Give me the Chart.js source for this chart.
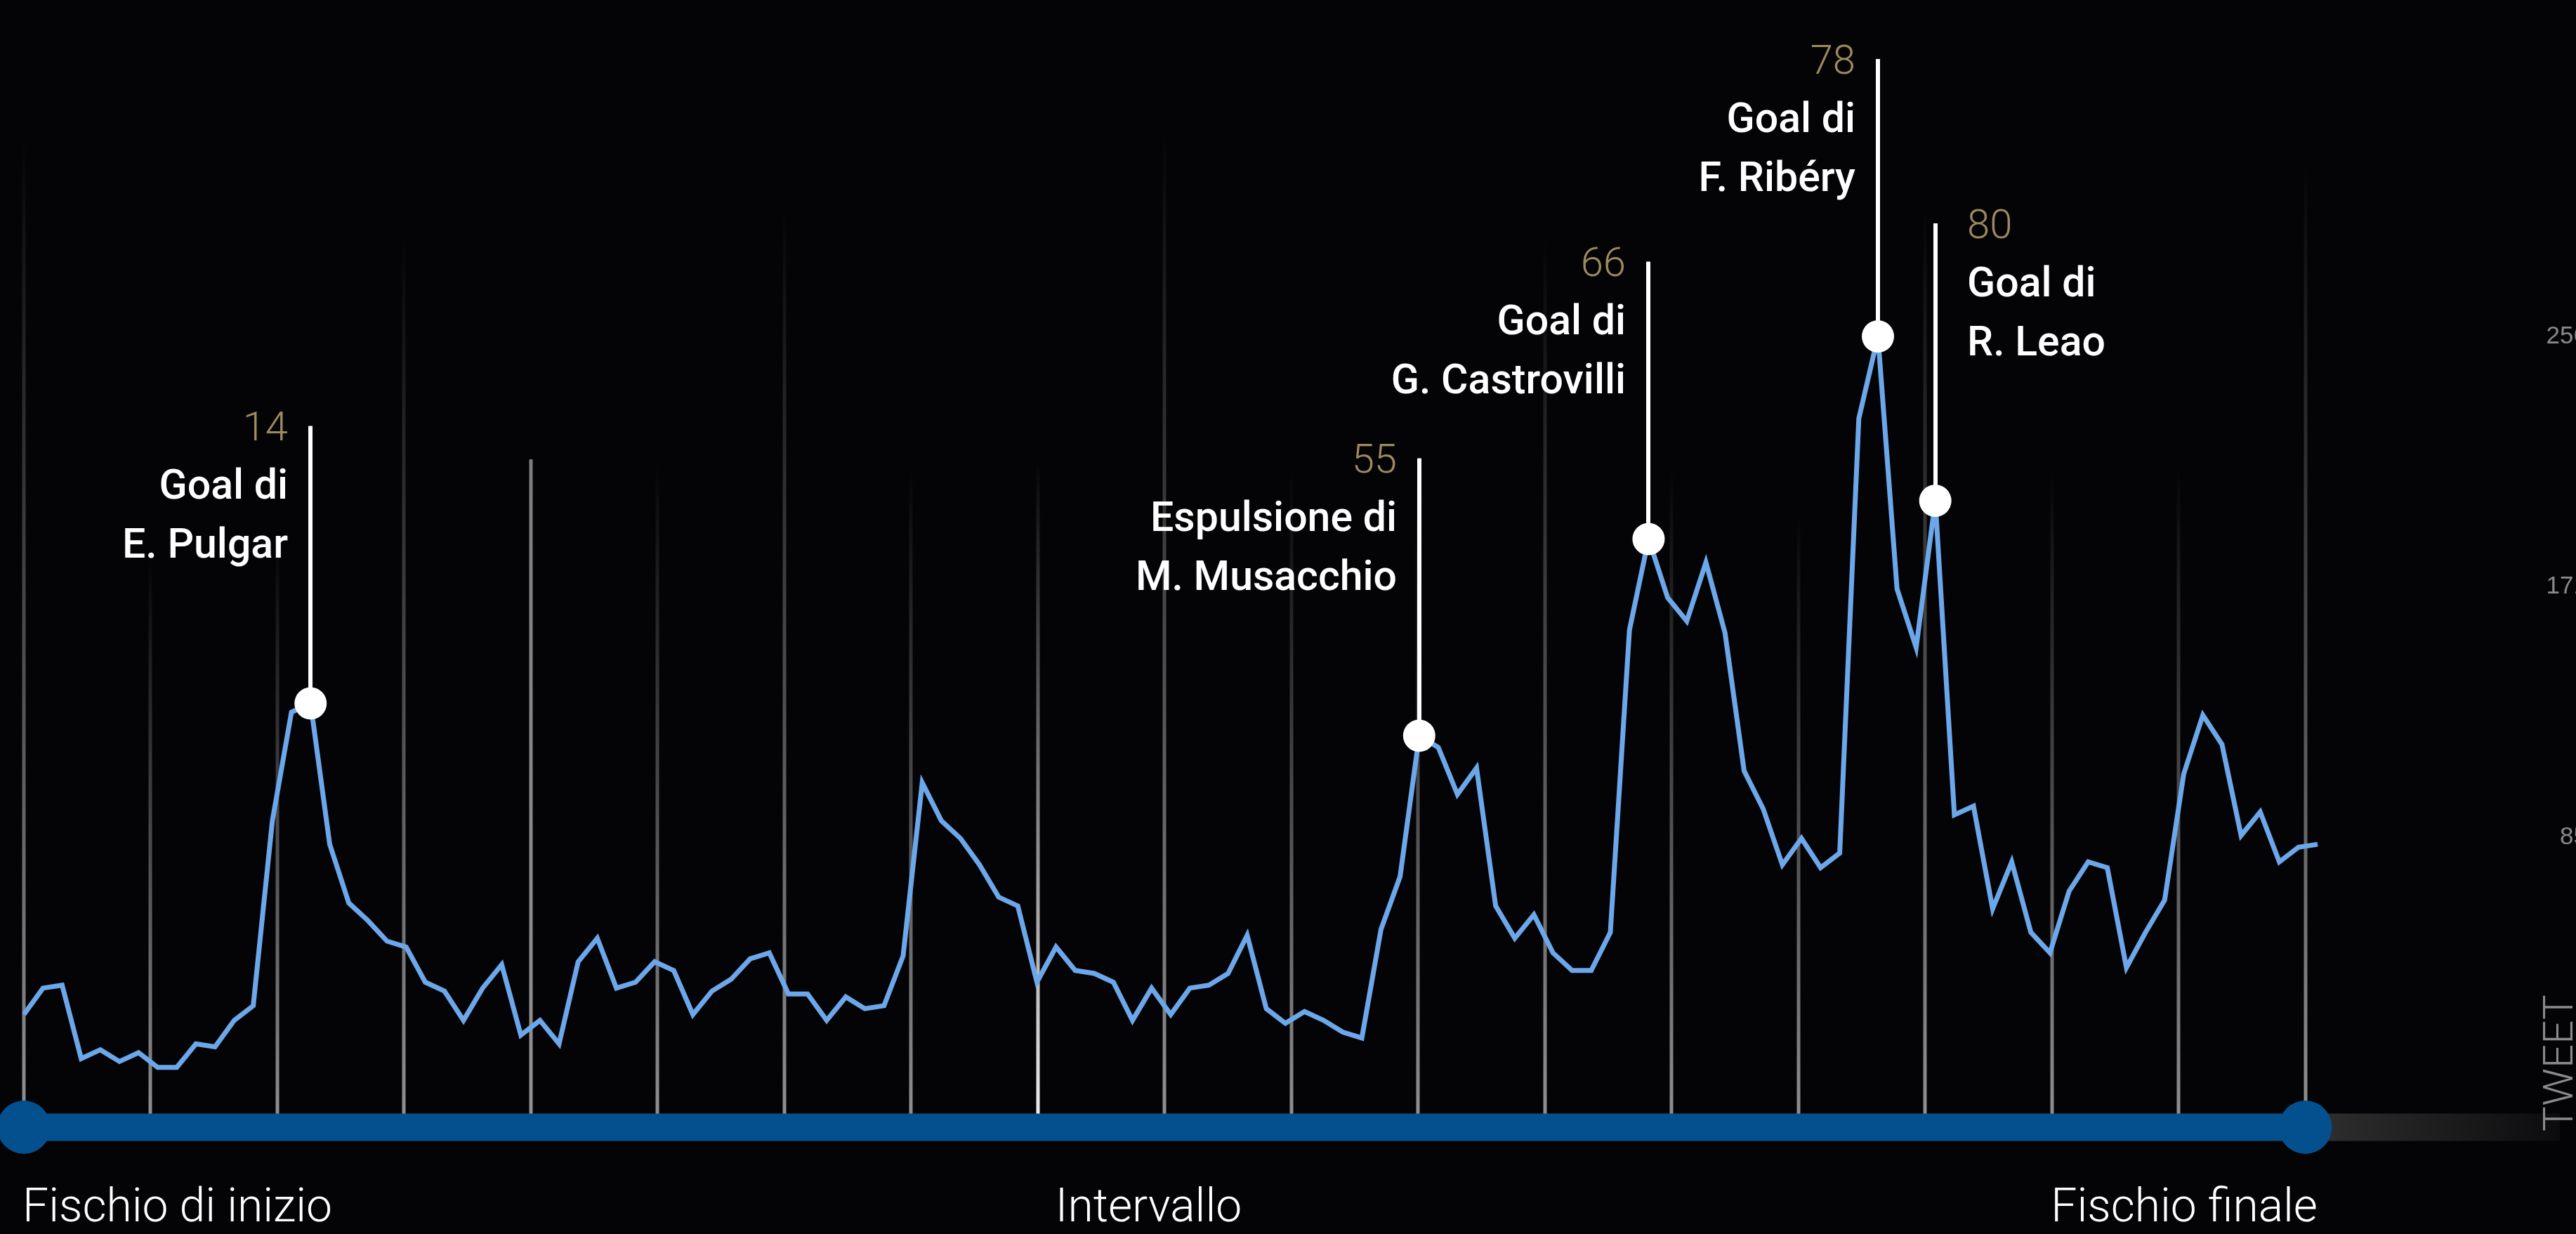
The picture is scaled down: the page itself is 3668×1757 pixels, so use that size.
<!DOCTYPE html>
<html lang="it">
<head>
<meta charset="utf-8">
<title>Tweet durante la partita</title>
<script src="https://cdn.jsdelivr.net/npm/chart.js@4.4.1/dist/chart.umd.min.js"></script>
<style>
    html, body { margin: 0; padding: 0; background: #040406; overflow: hidden; }
    canvas { display: block; }
</style>
</head>
<body>
<canvas id="tweetChart" width="3668" height="1757"></canvas>
<script>
// ============================================
// DATA
// ============================================

// tweet per minuto (un punto ogni minuto di tempo reale dal fischio d'inizio)
const tweets = [
    25, 34, 35, 10, 13, 9, 12, 7, 7, 15,
    14, 23, 28, 91, 128, 131, 83, 63, 57, 50,
    48, 36, 33, 23, 34, 42, 18, 23, 15, 43,
    51, 34, 36, 43, 40, 25, 33, 37, 44, 46,
    32, 32, 23, 31, 27, 28, 45, 104, 91, 85,
    76, 65, 62, 36, 48, 40, 39, 36, 23, 34,
    25, 34, 35, 39, 52, 27, 22, 26, 23, 19,
    17, 54, 72, 120, 116, 100, 109, 62, 51, 59,
    46, 40, 40, 53, 156, 187, 167, 159, 179, 155,
    108, 95, 76, 85, 75, 80, 228, 256, 170, 150,
    200, 93, 96, 61, 77, 53, 46, 67, 77, 75,
    41, 53, 64, 107, 127, 117, 86, 94, 77, 82,
    83
];

// eventi: minuto di gioco, posizione sulla serie, testo
const eventMinute = [14, 55, 66, 78, 80];
const eventSlot = [15, 73, 85, 97, 100];
const eventTitle = ['Goal di', 'Espulsione di', 'Goal di', 'Goal di', 'Goal di'];
const eventName = ['E. Pulgar', 'M. Musacchio', 'G. Castrovilli', 'F. Ribéry', 'R. Leao'];

// linea del tempo
const phaseLabels = ['Fischio di inizio', 'Intervallo', 'Fischio finale'];
const phaseSlots = [0, 53.05, 119.36];

// asse y
const yTicks = [85.33, 170.67, 256];
const yMax = 256;
const axisTitle = 'TWEET';

// ============================================
// STYLE
// ============================================

const BG = '#040406';
const LINE_BLUE = '#6ca7ea';
const BAR_BLUE = '#04508f';
const GOLD = '#9c8b5e';
const GRAY = '#8a8a8a';
const GRID_COUNT = 18;
const HALF_GRID = 8;
const gridTops = [187, 790, 760, 332, 654, 652, 287, 661, 652, 177,
                  661, 660, 332, 661, 725, 287, 661, 661, 223];
const labelRight = [false, false, false, false, true];
const STEM = 395;

const timelinePlugin = {
    id: 'timeline',
    beforeDatasetsDraw(chart) {
        const { ctx, chartArea, scales: { x, y } } = chart;
        const barY = chartArea.bottom + 56;
        const x0 = x.getPixelForValue(phaseSlots[0]);
        const x1 = x.getPixelForValue(phaseSlots[2]);

        // linee verticali sfumate
        for (let i = 0; i <= GRID_COUNT; i++) {
            const gx = Math.round(x.getPixelForValue(phaseSlots[2] * i / GRID_COUNT));
            const top = gridTops[i];
            const base = i === HALF_GRID ? '240,240,240' : '145,145,145';
            const g = ctx.createLinearGradient(0, top, 0, barY);
            if (i === 4) {
                g.addColorStop(0, 'rgba(125,125,125,1)');
                g.addColorStop(1, 'rgba(145,145,145,1)');
            } else {
                g.addColorStop(0, 'rgba(' + base + ',0)');
                g.addColorStop(1, 'rgba(' + base + ',1)');
            }
            ctx.save();
            ctx.strokeStyle = g;
            ctx.lineWidth = 5;
            ctx.beginPath();
            ctx.moveTo(gx, top);
            ctx.lineTo(gx, barY);
            ctx.stroke();
            ctx.restore();
        }

        // prolungamento grigio dopo il fischio finale
        ctx.save();
        const ext = ctx.createLinearGradient(x1, 0, 3645, 0);
        ext.addColorStop(0, 'rgba(48,48,48,1)');
        ext.addColorStop(1, 'rgba(12,12,14,1)');
        ctx.fillStyle = ext;
        ctx.fillRect(x1, barY - 19.5, 3645 - x1, 39);

        // barra blu con i due cerchi
        ctx.fillStyle = BAR_BLUE;
        ctx.fillRect(x0, barY - 19.5, x1 - x0, 39);
        [x0, x1].forEach(cx => {
            ctx.beginPath();
            ctx.arc(cx, barY, 38, 0, Math.PI * 2);
            ctx.fill();
        });

        // etichette della linea del tempo
        ctx.fillStyle = '#ffffff';
        ctx.font = '300 66px Roboto';
        ctx.textBaseline = 'alphabetic';
        ctx.textAlign = 'left';
        ctx.fillText(phaseLabels[0], x0 - 2, 1739);
        ctx.fillText(phaseLabels[1], x.getPixelForValue(phaseSlots[1]) + 25, 1739);
        ctx.textAlign = 'right';
        ctx.fillText(phaseLabels[2], x.right, 1739);

        // tacche asse y (tagliate dal bordo destro)
        ctx.fillStyle = GRAY;
        ctx.font = '35px "Liberation Sans"';
        ctx.textAlign = 'right';
        ctx.textBaseline = 'middle';
        yTicks.forEach(v => {
            ctx.fillText(String(Math.round(v)), 3684, y.getPixelForValue(v));
        });

        // titolo asse
        ctx.translate(3663, 1611);
        ctx.rotate(-Math.PI / 2);
        ctx.font = '300 60px Roboto';
        ctx.textAlign = 'left';
        ctx.textBaseline = 'alphabetic';
        ctx.fillText(axisTitle, 0, 0);
        ctx.restore();

        // aste degli eventi con le etichette
        const meta = chart.getDatasetMeta(1);
        meta.data.forEach((pt, i) => {
            const sx = Math.round(pt.x);
            const top = pt.y - STEM;
            ctx.save();
            ctx.strokeStyle = '#ffffff';
            ctx.lineWidth = 6;
            ctx.beginPath();
            ctx.moveTo(sx, pt.y);
            ctx.lineTo(sx, top);
            ctx.stroke();

            const right = labelRight[i];
            const tx = right ? sx + 45 : sx - 32;
            ctx.textAlign = right ? 'left' : 'right';
            ctx.textBaseline = 'alphabetic';
            ctx.fillStyle = GOLD;
            ctx.font = '300 58px Roboto';
            ctx.fillText(String(eventMinute[i]), tx, top + 21);
            ctx.fillStyle = '#ffffff';
            ctx.font = '500 59px Roboto';
            ctx.fillText(eventTitle[i], tx, top + 104);
            ctx.fillText(eventName[i], tx, top + 188);
            ctx.restore();
        });
    }
};

function buildChart() {
    const ctx = document.getElementById('tweetChart').getContext('2d');

    new Chart(ctx, {
        type: 'line',
        data: {
            datasets: [{
                label: 'Tweet',
                data: tweets.map((v, i) => ({ x: i, y: v })),
                borderColor: LINE_BLUE,
                borderWidth: 7,
                borderJoinStyle: 'miter',
                pointRadius: 0,
                tension: 0,
                fill: false,
                clip: false,
                order: 2
            }, {
                label: 'Eventi',
                data: eventSlot.map(s => ({ x: s, y: tweets[s] })),
                showLine: false,
                pointRadius: 23,
                pointBackgroundColor: '#ffffff',
                pointBorderColor: '#ffffff',
                pointBorderWidth: 0,
                clip: false,
                order: 1
            }]
        },
        options: {
            responsive: false,
            animation: false,
            devicePixelRatio: 1,
            layout: { padding: { left: 34, right: 368, top: 479, bottom: 208 } },
            plugins: {
                legend: { display: false },
                tooltip: { enabled: false }
            },
            events: [],
            scales: {
                x: { type: 'linear', min: 0, max: 120, display: false },
                y: { min: 0, max: yMax, display: false }
            }
        },
        plugins: [timelinePlugin]
    });
}

document.body.style.background = BG;
Promise.all([
    document.fonts.load('300 66px Roboto'),
    document.fonts.load('500 59px Roboto'),
    document.fonts.load('35px "Liberation Sans"')
]).then(buildChart, buildChart);
</script>
</body>
</html>
